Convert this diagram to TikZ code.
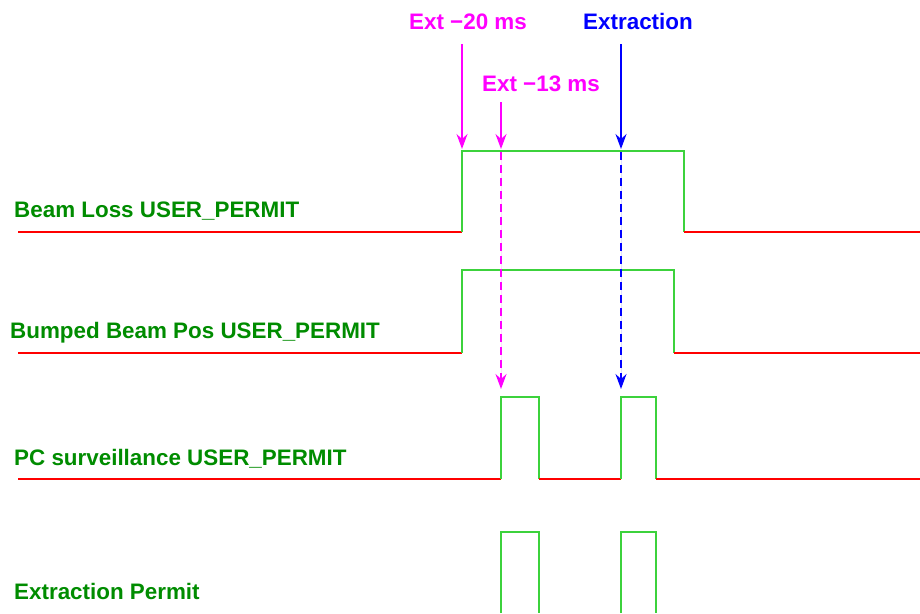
\documentclass[tikz,border=0pt]{standalone}
\usepackage{fontspec}
\setmainfont{Liberation Sans}
\usetikzlibrary{arrows.meta}
\definecolor{lbl}{RGB}{0,140,0}
\definecolor{hi}{RGB}{60,210,60}
\definecolor{lo}{RGB}{255,0,0}
\definecolor{mag}{RGB}{255,0,255}
\definecolor{blu}{RGB}{0,0,255}
\tikzset{
  sig/.style={inner sep=0pt, anchor=base west, text=lbl, font=\bfseries\fontsize{22.4}{24}\selectfont},
  evlabel/.style={inner sep=0pt, anchor=base, font=\bfseries\fontsize{22.4}{24}\selectfont},
  lowline/.style={draw=lo, line width=1.6pt},
  highline/.style={draw=hi, line width=1.6pt},
  evarrow/.style={line width=1.6pt, -{Stealth[length=15pt,width=11pt,inset=5pt]}},
  evdash/.style={line width=1.4pt, dash pattern=on 8pt off 5pt, -{Stealth[length=15pt,width=11pt,inset=5pt]}}
}
\begin{document}
\begin{tikzpicture}[x=1pt,y=-1pt]
\useasboundingbox (0,0) rectangle (920,613);
% labels
\node[sig] (l1) at (14,217) {Beam Loss USER\_PERMIT};
\node[sig] (l2) at (10,338) {Bumped Beam Pos USER\_PERMIT};
\node[sig] (l3) at (14,465) {PC surveillance USER\_PERMIT};
\node[sig] (l4) at (14,599) {Extraction Permit};
\node[evlabel, text=mag] (e20) at (468,29) {Ext −20 ms};
\node[evlabel, text=blu] (ex) at (638,29) {Extraction};
\node[evlabel, text=mag] (e13) at (541,91) {Ext −13 ms};
% signal 1
\draw[lowline] (18,232) -- (462,232);
\draw[highline] (462,232) -- (462,151) -- (684,151) -- (684,232);
\draw[lowline] (684,232) -- (920,232);
% signal 2
\draw[lowline] (18,353) -- (462,353);
\draw[highline] (462,353) -- (462,270) -- (674,270) -- (674,353);
\draw[lowline] (674,353) -- (920,353);
% signal 3
\draw[lowline] (18,479) -- (501,479);
\draw[highline] (501,479) -- (501,397) -- (539,397) -- (539,479);
\draw[lowline] (539,479) -- (621,479);
\draw[highline] (621,479) -- (621,397) -- (656,397) -- (656,479);
\draw[lowline] (656,479) -- (920,479);
% signal 4
\draw[highline] (501,613) -- (501,532) -- (539,532) -- (539,613);
\draw[highline] (621,613) -- (621,532) -- (656,532) -- (656,613);
% arrows
\coordinate (a20s) at (462,44);
\coordinate (a20e) at (462,149);
\coordinate (a13s) at (501,102);
\coordinate (a13e) at (501,149);
\coordinate (axs) at (621,44);
\coordinate (axe) at (621,149);
\coordinate (d13s) at (501,152);
\coordinate (d13e) at (501,389);
\coordinate (dxs) at (621,152);
\coordinate (dxe) at (621,389);
\draw[evarrow, draw=mag, fill=mag] (a20s) -- (a20e);
\draw[evarrow, draw=mag, fill=mag] (a13s) -- (a13e);
\draw[evarrow, draw=blu, fill=blu] (axs) -- (axe);
\draw[evdash, draw=mag, fill=mag] (d13s) -- (d13e);
\draw[evdash, draw=blu, fill=blu] (dxs) -- (dxe);
\end{tikzpicture}
\end{document}
